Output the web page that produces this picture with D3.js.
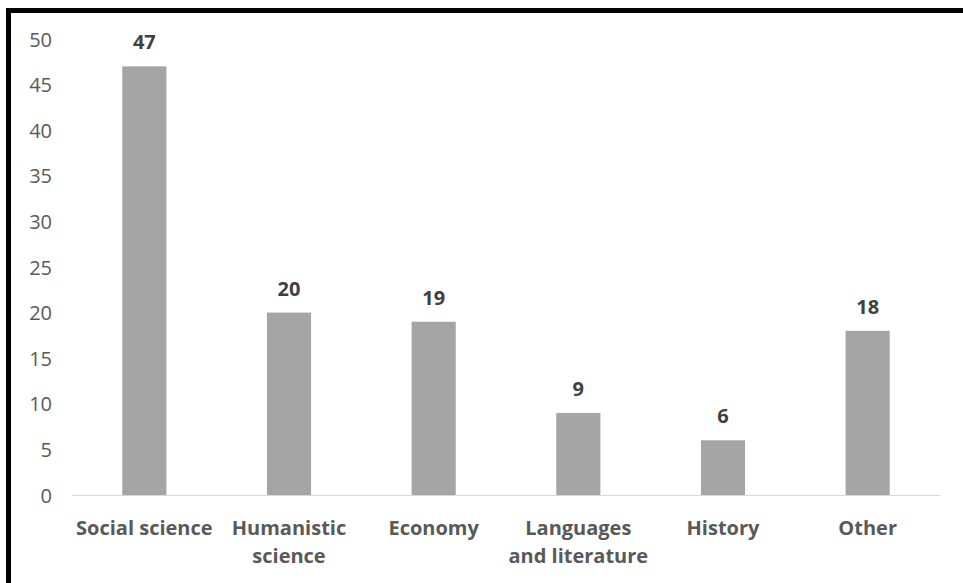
<!DOCTYPE html>
<html>
<head>
<meta charset="utf-8">
<script src="https://cdn.jsdelivr.net/npm/d3@7"></script>
<style>
  html, body { margin: 0; padding: 0; background: #fff; }
  svg { display: block; }
  .tick-y text { font-family: "Open Sans", sans-serif; font-size: 20px; fill: #595959; }
  .cat-label { font-family: "Open Sans", sans-serif; font-size: 20px; font-weight: bold; fill: #595959; }
  .val-label { font-family: "Open Sans", sans-serif; font-size: 20px; font-weight: bold; fill: #404040; }
</style>
</head>
<body>
<svg id="chart" width="963" height="583"></svg>
<script>
const categories = [
  ["Social science"],
  ["Humanistic", "science"],
  ["Economy"],
  ["Languages", "and literature"],
  ["History"],
  ["Other"]
];
const values = [47, 20, 19, 9, 6, 18];
const yTicks = [0, 5, 10, 15, 20, 25, 30, 35, 40, 45, 50];

const svg = d3.select("#chart");
const plot = { left: 72, right: 940, top: 39, bottom: 495 };

const keys = categories.map(c => c.join(" "));
const x = d3.scaleBand().domain(keys).range([plot.left, plot.right]).paddingInner(0.695).paddingOuter(0.3475);
const y = d3.scaleLinear().domain([0, 50]).range([plot.bottom, plot.top]);

// frame, cut off at the right and bottom as in the screenshot
svg.append("path")
  .attr("d", "M8.5,583 V10.5 H963")
  .attr("fill", "none")
  .attr("stroke", "#000")
  .attr("stroke-width", 5);

// y axis: labels only
const yAxis = svg.append("g")
  .attr("class", "tick-y")
  .attr("transform", `translate(${plot.left - 20},0)`)
  .call(d3.axisLeft(y).tickValues(yTicks).tickSize(0).tickPadding(0));
yAxis.select(".domain").remove();
yAxis.selectAll("text").attr("dy", "0.35em");

// baseline
svg.append("line")
  .attr("x1", plot.left).attr("x2", plot.right)
  .attr("y1", y(0) + 0.5).attr("y2", y(0) + 0.5)
  .attr("stroke", "#d9d9d9").attr("stroke-width", 1);

// bars
svg.append("g").selectAll("rect")
  .data(values)
  .join("rect")
  .attr("x", (d, i) => x(keys[i]))
  .attr("y", d => y(d))
  .attr("width", x.bandwidth())
  .attr("height", d => y(0) - y(d))
  .attr("fill", "#a5a5a5");

// value labels
svg.append("g").selectAll("text")
  .data(values)
  .join("text")
  .attr("class", "val-label")
  .attr("x", (d, i) => x(keys[i]) + x.bandwidth() / 2)
  .attr("y", d => y(d) - 17)
  .attr("text-anchor", "middle")
  .text(d => d);

// category labels (wrapped)
const catG = svg.append("g").selectAll("text")
  .data(categories)
  .join("text")
  .attr("class", "cat-label")
  .attr("x", (d, i) => x(keys[i]) + x.bandwidth() / 2)
  .attr("y", 535)
  .attr("text-anchor", "middle");
catG.selectAll("tspan")
  .data(d => d)
  .join("tspan")
  .attr("x", function() { return this.parentNode.getAttribute("x"); })
  .attr("dy", (d, i) => i === 0 ? 0 : 28)
  .text(d => d);
</script>
</body>
</html>
